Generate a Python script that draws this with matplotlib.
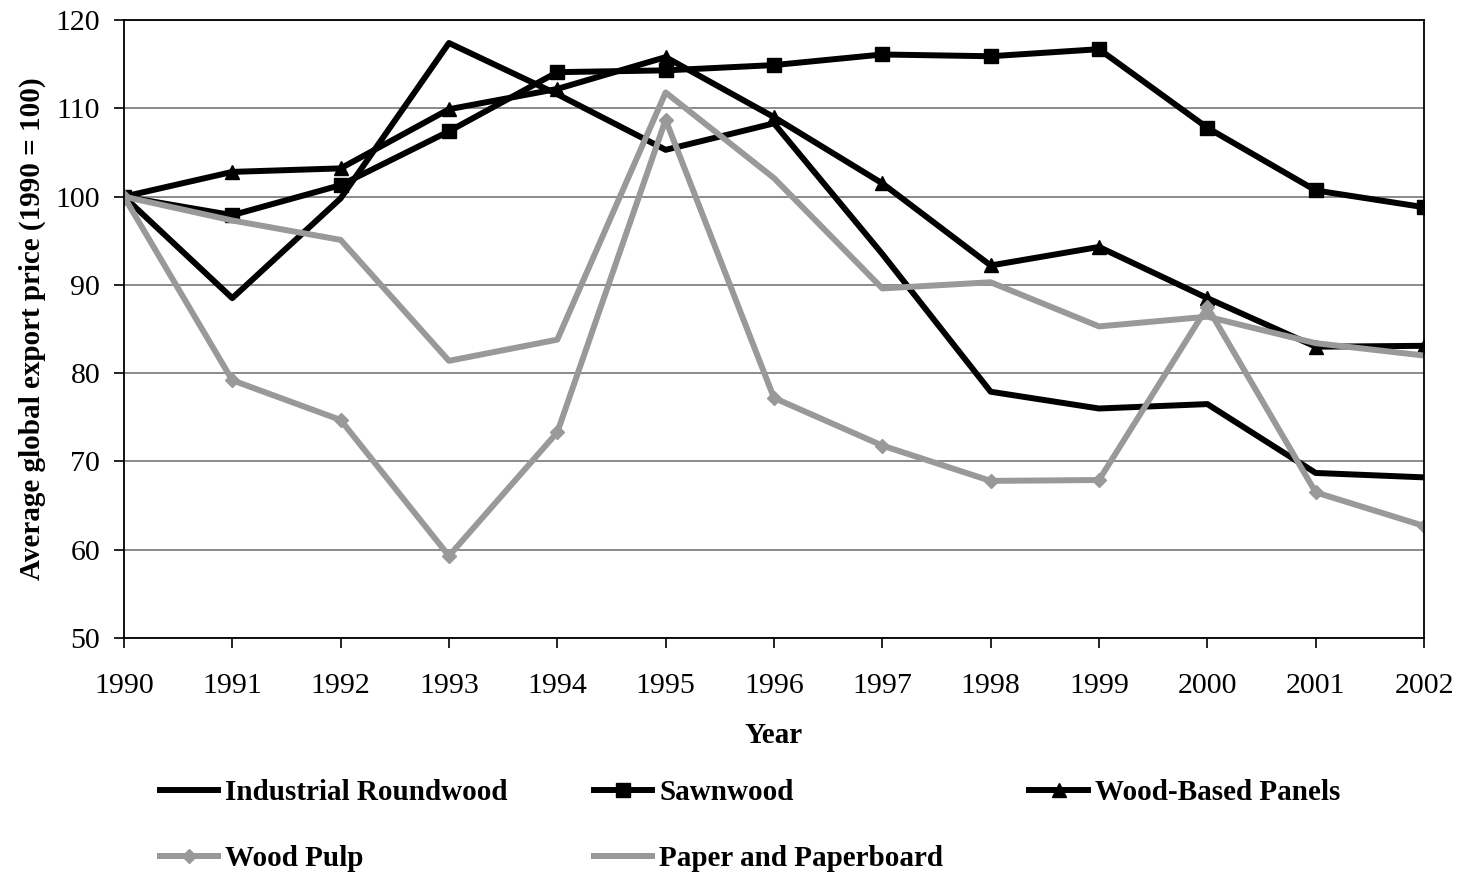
import matplotlib
matplotlib.use("Agg")
import matplotlib.pyplot as plt

years = list(range(1990, 2003))

industrial_roundwood = [100, 88.5, 99.8, 117.4, 111.6, 105.3, 108.3, 93.5, 77.9, 76.0, 76.5, 68.7, 68.2]
sawnwood = [100, 97.9, 101.3, 107.4, 114.1, 114.3, 114.9, 116.1, 115.9, 116.7, 107.8, 100.7, 98.8]
wood_based_panels = [100, 102.8, 103.2, 109.9, 112.2, 115.8, 109.0, 101.5, 92.2, 94.3, 88.5, 83.0, 83.1]
wood_pulp = [100, 79.2, 74.7, 59.3, 73.3, 108.7, 77.2, 71.8, 67.8, 67.9, 87.5, 66.5, 62.7]
paper_paperboard = [100, 97.3, 95.1, 81.4, 83.8, 111.8, 102.1, 89.6, 90.3, 85.3, 86.4, 83.4, 82.0]

plt.rcParams['font.family'] = ['Liberation Serif', 'DejaVu Serif']

fig = plt.figure(figsize=(14.58, 8.72), dpi=100)
ax = fig.add_axes([0.085, 0.2683, 0.8917, 0.7087])

grey = '#999999'
lw = 4.3
l_ir, = ax.plot(years, industrial_roundwood, color='black', lw=lw, label='Industrial Roundwood')
l_sw, = ax.plot(years, sawnwood, color='black', lw=lw, marker='s', markersize=10, label='Sawnwood')
l_wbp, = ax.plot(years, wood_based_panels, color='black', lw=lw, marker='^', markersize=10, label='Wood-Based Panels')
l_wp, = ax.plot(years, wood_pulp, color=grey, lw=lw, marker='D', markersize=7, label='Wood Pulp')
l_pp, = ax.plot(years, paper_paperboard, color=grey, lw=lw, label='Paper and Paperboard')

ax.set_xlim(1990, 2002)
ax.set_ylim(50, 120)
ax.set_xticks(years)
ax.set_yticks(range(50, 121, 10))
ax.yaxis.grid(True, color='#777777', lw=1.2)
ax.set_axisbelow(True)
for s in ax.spines.values():
    s.set_linewidth(1.3)
ax.tick_params(axis='both', labelsize=21.5, length=7, width=1.2, direction='out')
ax.tick_params(axis='x', pad=18)
ax.tick_params(axis='y', pad=10)
ax.set_xlabel('Year', fontsize=21, fontweight='bold', labelpad=17)
ax.set_ylabel('Average global export price (1990 = 100)', fontsize=21, fontweight='bold', labelpad=7)

handles = [l_ir, l_wp, l_sw, l_pp, l_wbp]
fig.legend(handles, [h.get_label() for h in handles], ncol=3, frameon=False,
           loc='upper left', bbox_to_anchor=(0.1015, 0.12), bbox_transform=fig.transFigure,
           prop={'size': 21, 'weight': 'bold'}, handlelength=2.0, handletextpad=0.25,
           columnspacing=2.95, labelspacing=1.35, borderaxespad=0)

fig.savefig('out.png', dpi=100)
